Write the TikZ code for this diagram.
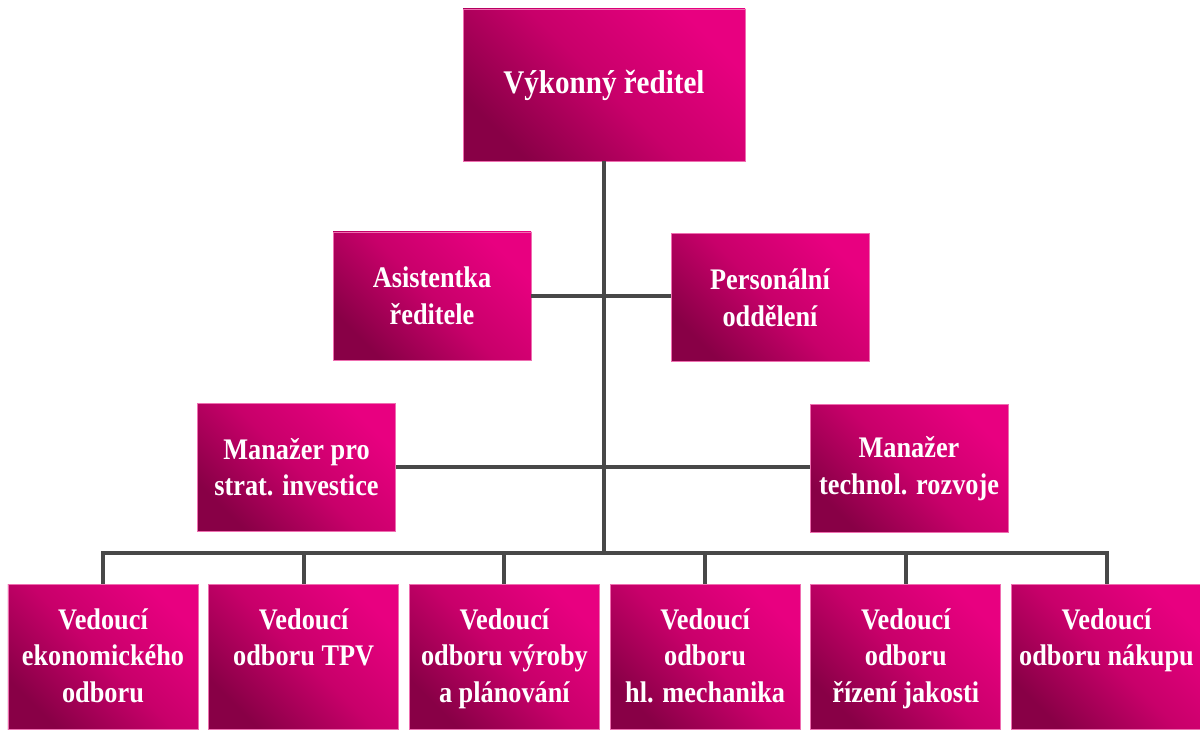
\documentclass[tikz,border=0pt]{standalone}
\usepackage{fontspec}
\setmainfont{Liberation Serif}[FakeStretch=0.88]
\usetikzlibrary{positioning}

\definecolor{pinkhi}{RGB}{232,0,128}
\definecolor{pinkmid}{RGB}{200,0,106}
\definecolor{pinklo}{RGB}{136,0,70}
\definecolor{pinkedge}{RGB}{238,110,176}
\definecolor{linegray}{RGB}{72,72,72}

% text of a department box, hung from the top edge
\newcommand{\depttext}[1]{\parbox[c][2.9cm][t]{3.8cm}{\centering\rule{0pt}{0.9cm}#1}}

\begin{document}
\begin{tikzpicture}[
    x=0.2mm, y=-0.2mm,
    node distance = 0.2cm,
    box/.style = {rectangle, draw=pinkedge, line width=0.4pt, top color=pinkhi, bottom color=pinklo, middle color=pinkmid, shading angle=-45, text=white, align=center, inner sep=0pt, font=\fontsize{17}{20.8}\selectfont\bfseries},
    midbox/.style = {box, minimum width=3.96cm, minimum height=2.56cm},
    dept/.style = {box},
    conn/.style = {draw=linegray, line width=0.8mm}
]
    \useasboundingbox (0,0) rectangle (1200,730);

    % 1. Director
    \node [box, minimum width=5.64cm, minimum height=3.04cm, font=\fontsize{18.8}{22}\selectfont\bfseries] (ceo) at (604,85) {Výkonný ředitel};

    % 2. Staff units
    \node [midbox] (asist) at (432,296) {Asistentka\\ředitele};
    \node [midbox] (pers) at (770,297.5) {Personální\\oddělení};

    % 3. Managers
    \node [midbox] (strat) at (296.5,467) {Manažer pro\\strat. investice};
    \node [midbox] (tech) at (909,468.5) {Manažer\\technol. rozvoje};

    % 4. Department heads
    \node [dept] (v1) at (103,656.5) {\depttext{Vedoucí\\ekonomického\\odboru}};
    \node [dept, right=of v1] (v2) {\depttext{Vedoucí\\odboru TPV}};
    \node [dept, right=of v2] (v3) {\depttext{Vedoucí\\odboru výroby\\a plánování}};
    \node [dept, right=of v3] (v4) {\depttext{Vedoucí\\odboru\\hl. mechanika}};
    \node [dept, right=of v4] (v5) {\depttext{Vedoucí\\odboru\\řízení jakosti}};
    \node [dept, right=of v5] (v6) {\depttext{Vedoucí\\odboru nákupu}};

    % 5. Connecting lines
    \coordinate (bus) at (604,553);
    \draw [conn] (ceo.south) -- (bus);
    \draw [conn] (asist.east) -- (asist.east -| pers.west);
    \draw [conn] (strat.east) -- (strat.east -| tech.west);
    \draw [conn] (v1.north) |- (bus) -| (v6.north);
    \draw [conn] (v2.north) -- (v2.north |- bus);
    \draw [conn] (v3.north) -- (v3.north |- bus);
    \draw [conn] (v4.north) -- (v4.north |- bus);
    \draw [conn] (v5.north) -- (v5.north |- bus);
\end{tikzpicture}
\end{document}
